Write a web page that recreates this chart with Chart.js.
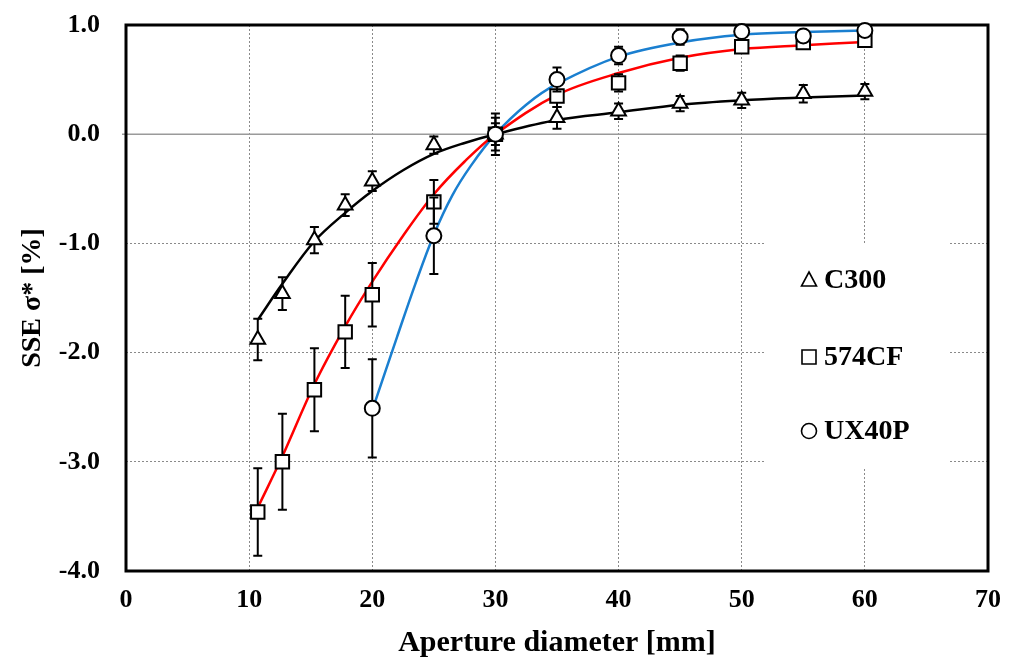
<!DOCTYPE html>
<html>
<head>
<meta charset="utf-8">
<script src="https://cdn.jsdelivr.net/npm/chart.js@4.4.1/dist/chart.umd.min.js"></script>
<style>
  html, body { margin: 0; padding: 0; background: #fff; }
  #wrap { width: 1015px; height: 665px; position: relative; }
</style>
</head>
<body>
<div id="wrap"><canvas id="c" width="1015" height="665"></canvas></div>
<script>
// ---- Data ----
const seriesNames = ['C300', '574CF', 'UX40P'];

// measured points (aperture diameter, SSE, error)
const xC300 = [10.7, 12.7, 15.3, 17.8, 20, 25, 30, 35, 40, 45, 50, 55, 60];
const yC300 = [-1.88, -1.46, -0.97, -0.65, -0.43, -0.10, 0, 0.15, 0.21, 0.28, 0.31, 0.37, 0.39];
const eC300 = [0.19, 0.15, 0.12, 0.10, 0.09, 0.08, 0.10, 0.10, 0.07, 0.07, 0.07, 0.08, 0.07];

const x574 = [10.7, 12.7, 15.3, 17.8, 20, 25, 30, 35, 40, 45, 50, 55, 60];
const y574 = [-3.46, -3.00, -2.34, -1.81, -1.47, -0.62, 0, 0.35, 0.47, 0.65, 0.80, 0.84, 0.86];
const e574 = [0.40, 0.44, 0.38, 0.33, 0.29, 0.20, 0.19, 0.10, 0.08, 0.07, 0.05, 0.05, 0.05];

const xUX = [20, 25, 30, 35, 40, 45, 50, 55, 60];
const yUX = [-2.51, -0.93, 0, 0.50, 0.72, 0.89, 0.94, 0.90, 0.95];
const eUX = [0.45, 0.35, 0.15, 0.11, 0.08, 0.07, 0.03, 0.04, 0.03];

// fitted curves
const fitXC300 = [10.7, 12.7, 15.3, 17.8, 20, 22.5, 25, 27.5, 30, 35, 40, 45, 50, 55, 60];
const fitYC300 = [-1.70, -1.37, -0.98, -0.72, -0.52, -0.33, -0.18, -0.08, 0, 0.13, 0.20, 0.27, 0.31, 0.335, 0.355];

const fitX574 = [10.7, 12.7, 15.3, 17.8, 20, 22.5, 25, 27.5, 30, 35, 40, 45, 50, 55, 60];
const fitY574 = [-3.42, -2.95, -2.29, -1.76, -1.35, -0.93, -0.55, -0.25, 0, 0.36, 0.56, 0.70, 0.78, 0.815, 0.845];

const fitXUX = [20.2, 22, 23.5, 25, 26.5, 28, 30, 32.5, 35, 40, 45, 50, 55, 60];
const fitYUX = [-2.46, -1.86, -1.37, -0.92, -0.56, -0.29, 0, 0.27, 0.46, 0.71, 0.84, 0.91, 0.935, 0.95];

const xTickMin = 0, xTickMax = 70, xStep = 10;
const yTickMin = -4, yTickMax = 1, yStep = 1;

const FONT = "'Liberation Serif', 'Times New Roman', serif";

function pts(xs, ys) { return xs.map((x, i) => ({ x: x, y: ys[i] })); }

const curveStyle = (color) => ({
  type: 'scatter', showLine: true, pointRadius: 0, borderColor: color,
  borderWidth: 2.5, tension: 0.35, fill: false, order: 5, clip: false
});
const markerStyle = (shape, r) => ({
  type: 'scatter', showLine: false, pointStyle: shape, pointRadius: r, pointHoverRadius: r,
  pointBackgroundColor: '#fff', pointBorderColor: '#000', pointBorderWidth: 2, order: 1, clip: false
});

const datasets = [
  Object.assign({ label: 'fit C300', data: pts(fitXC300, fitYC300) }, curveStyle('#000000')),
  Object.assign({ label: 'fit 574CF', data: pts(fitX574, fitY574) }, curveStyle('#ff0000')),
  Object.assign({ label: 'fit UX40P', data: pts(fitXUX, fitYUX) }, curveStyle('#1a7fd0')),
  Object.assign({ label: seriesNames[2], data: pts(xUX, yUX), errors: eUX }, markerStyle('circle', 7.5)),
  Object.assign({ label: seriesNames[1], data: pts(x574, y574), errors: e574 }, markerStyle('rect', 9.5)),
  Object.assign({ label: seriesNames[0], data: pts(xC300, yC300), errors: eC300 }, markerStyle('triangle', 8.5)),
];

const backdrop = {
  id: 'backdrop',
  beforeDatasetsDraw(chart) {
    const { ctx, chartArea: a, scales: { x, y } } = chart;
    ctx.save();
    ctx.fillStyle = '#fff';
    ctx.fillRect(764, 243, 184, 225);
    const y0 = y.getPixelForValue(0);
    ctx.strokeStyle = '#9a9a9a';
    ctx.lineWidth = 1.5;
    ctx.beginPath(); ctx.moveTo(a.left - 4, y0); ctx.lineTo(a.right, y0); ctx.stroke();
    ctx.strokeStyle = '#000';
    ctx.lineWidth = 3;
    ctx.strokeRect(a.left, a.top, a.right - a.left, a.bottom - a.top);
    ctx.lineWidth = 1.6;
    ctx.strokeStyle = '#000';
    ctx.fillStyle = '#fff';
    const mx = 809;
    const rows = [280, 357, 431];
    ctx.beginPath();
    ctx.moveTo(mx, rows[0] - 8); ctx.lineTo(mx + 7.5, rows[0] + 6); ctx.lineTo(mx - 7.5, rows[0] + 6); ctx.closePath();
    ctx.fill(); ctx.stroke();
    ctx.beginPath(); ctx.rect(mx - 7, rows[1] - 7, 14, 14); ctx.fill(); ctx.stroke();
    ctx.beginPath(); ctx.arc(mx, rows[2], 7.5, 0, Math.PI * 2); ctx.fill(); ctx.stroke();
    ctx.fillStyle = '#000';
    ctx.font = 'bold 28px ' + FONT;
    ctx.textAlign = 'left';
    ctx.textBaseline = 'middle';
    ctx.fillText(seriesNames[0], 824, rows[0] + 1);
    ctx.fillText(seriesNames[1], 824, rows[1] + 1);
    ctx.fillText(seriesNames[2], 824, rows[2] + 1);
    ctx.restore();
  }
};

const errorBars = {
  id: 'errorBars',
  beforeDatasetDraw(chart, args) {
    const ds = chart.data.datasets[args.index];
    if (!ds.errors) return;
    const { ctx, scales: { y } } = chart;
    ctx.save();
    ctx.strokeStyle = '#000';
    ctx.lineWidth = 2;
    const cap = 4.5;
    args.meta.data.forEach((el, i) => {
      const v = ds.data[i].y, e = ds.errors[i];
      if (!e) return;
      const yt = y.getPixelForValue(v + e), yb = y.getPixelForValue(v - e);
      const px = el.x;
      ctx.beginPath();
      ctx.moveTo(px, yt); ctx.lineTo(px, yb);
      ctx.moveTo(px - cap, yt); ctx.lineTo(px + cap, yt);
      ctx.moveTo(px - cap, yb); ctx.lineTo(px + cap, yb);
      ctx.stroke();
    });
    ctx.restore();
  }
};

new Chart(document.getElementById('c'), {
  type: 'scatter',
  data: { datasets },
  plugins: [backdrop, errorBars],
  options: {
    responsive: false,
    animation: false,
    events: [],
    layout: { padding: { left: 0, right: 27, top: 25, bottom: 0 } },
    plugins: { legend: { display: false }, tooltip: { enabled: false } },
    scales: {
      x: {
        type: 'linear', min: xTickMin, max: xTickMax,
        afterFit: s => { s.height = 94; s.paddingLeft = 0; s.paddingRight = 0; },
        ticks: { stepSize: xStep, color: '#000', padding: 14, font: { family: FONT, size: 26, weight: 'bold' } },
        grid: {
          drawTicks: false, lineWidth: 1,
          color: c => (c.tick && (c.tick.value === xTickMin || c.tick.value === xTickMax)) ? 'rgba(0,0,0,0)' : '#8a8a8a'
        },
        border: { display: false, dash: [2, 2] },
        title: { display: true, text: 'Aperture diameter [mm]', color: '#000', padding: { top: 0, bottom: 4 },
                 font: { family: FONT, size: 30, weight: 'bold' } }
      },
      y: {
        type: 'linear', min: yTickMin, max: yTickMax,
        afterFit: s => { s.width = 126; s.paddingTop = 0; s.paddingBottom = 0; },
        ticks: { stepSize: yStep, color: '#000', padding: 26, callback: v => Number(v).toFixed(1),
                 font: { family: FONT, size: 26, weight: 'bold' } },
        grid: {
          drawTicks: false, lineWidth: 1,
          color: c => (c.tick && (c.tick.value === 0 || c.tick.value === yTickMin || c.tick.value === yTickMax)) ? 'rgba(0,0,0,0)' : '#8a8a8a'
        },
        border: { display: false, dash: [2, 2] },
        title: { display: true, text: 'SSE σ* [%]', color: '#000', padding: { top: 16, bottom: 0 },
                 font: { family: FONT, size: 28, weight: 'bold' } }
      }
    }
  }
});
</script>
</body>
</html>
